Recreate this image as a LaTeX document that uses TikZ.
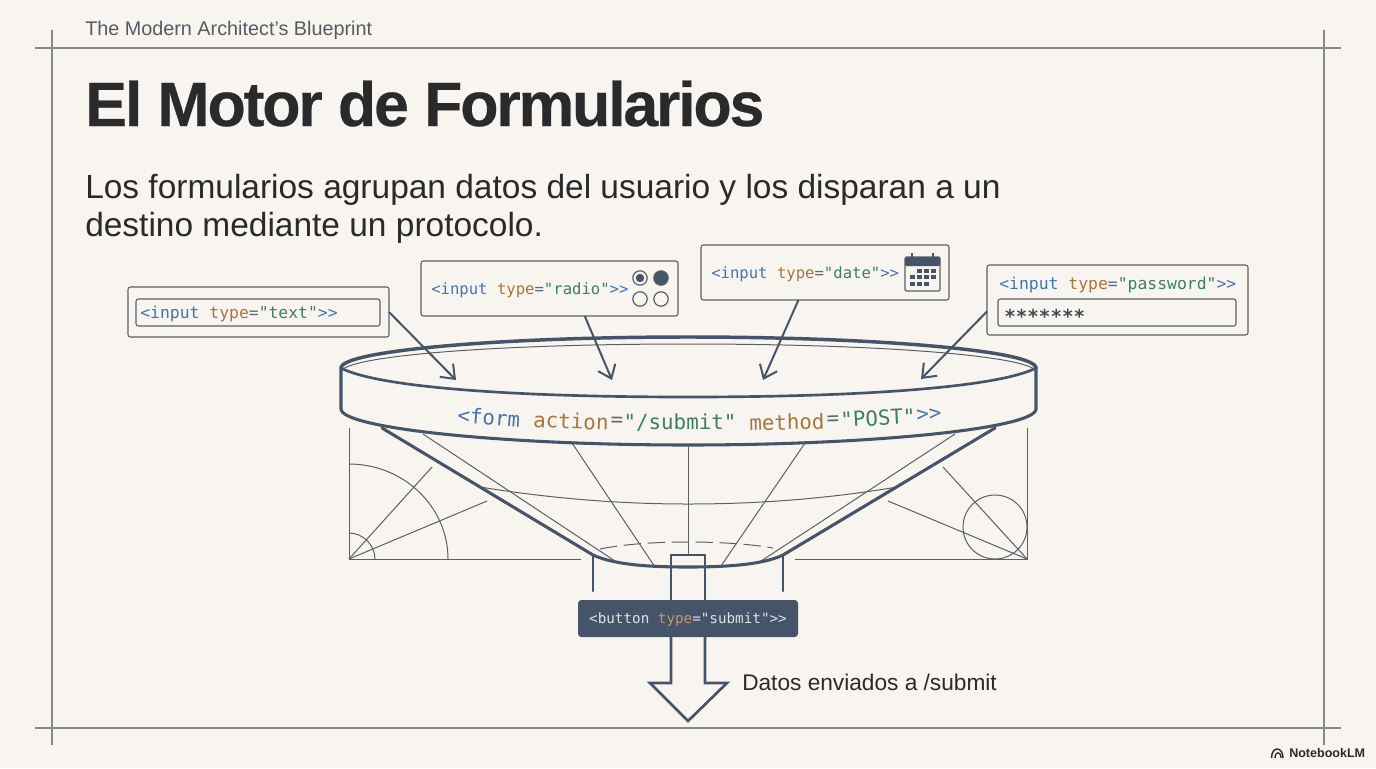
\documentclass[tikz,border=0pt]{standalone}
\usepackage{fontspec}
\setmainfont{Liberation Sans}
\setmonofont{DejaVu Sans Mono}
\usetikzlibrary{arrows.meta,calc}
\definecolor{paperbg}{HTML}{F8F5F1}
\definecolor{framegray}{HTML}{85878D}
\definecolor{slate}{HTML}{465469}
\definecolor{draftgray}{HTML}{5A5F68}
\definecolor{inkdark}{HTML}{2A2A2C}
\definecolor{headgray}{HTML}{555A64}
\definecolor{codeblue}{HTML}{4474AC}
\definecolor{codeorange}{HTML}{A8753C}
\definecolor{codegreen}{HTML}{3F7D68}
\definecolor{codegray}{HTML}{5F6A78}
\definecolor{btntext}{HTML}{DDE2E6}
\definecolor{btnorange}{HTML}{C29A6C}
\newcommand{\tagb}[1]{\textcolor{codeblue}{#1}}
\newcommand{\tago}[1]{\textcolor{codeorange}{#1}}
\newcommand{\tagg}[1]{\textcolor{codegreen}{#1}}
\newcommand{\tagq}{\textcolor{codegray}{=}}
\tikzset{
  frameline/.style={draw=framegray,line width=1pt},
  draftline/.style={draw=draftgray,line width=0.75pt},
  funnelline/.style={draw=slate,line width=2.3pt,line cap=round},
  fieldbox/.style={draw=draftgray,line width=0.8pt,rounded corners=1.8pt,inner sep=0pt,outer sep=0pt},
  arrowline/.style={draw=slate,line width=1.5pt,-{Straight Barb[length=9pt,width=14pt,line width=1.5pt]}},
  codetext/.style={font=\fontsize{#1}{#1}\selectfont\ttfamily,inner sep=0pt},
}
\begin{document}
\begin{tikzpicture}[x=0.75pt,y=0.75pt,yscale=-1,xscale=1]
        \useasboundingbox (0,0) rectangle (1376,768);
        \fill [paperbg] (0,0) rectangle (1376,768);
        % Frame
        \draw [frameline] (35,48) -- (1341,48);
        \draw [frameline] (35,728) -- (1341,728);
        \draw [frameline] (52,30) -- (52,745);
        \draw [frameline] (1324,30) -- (1324,745);
        % Text Node
        \node (headline) [anchor=base west,inner sep=0pt,text=headgray,font=\fontsize{14.85}{14.85}\selectfont] at (85,35) {The Modern Architect's Blueprint};
        \node (title) [anchor=base west,inner sep=0pt,text=inkdark,font=\fontsize{47}{47}\selectfont\bfseries\addfontfeature{LetterSpace=-3.5,FakeBold=0.4}] at (85,126) {El Motor de Formularios};
        \node (subone) [anchor=base west,inner sep=0pt,text=inkdark,font=\fontsize{25.1}{25.1}\selectfont] at (85,198) {Los formularios agrupan datos del usuario y los disparan a un};
        \node (subtwo) [anchor=base west,inner sep=0pt,text=inkdark,font=\fontsize{25.1}{25.1}\selectfont] at (85,236) {destino mediante un protocolo.};
        % Drafting lines, left
        \draw [draftline] (349,428) -- (349,559) -- (581,559);
        \draw [draftline] (349,464) .. controls (404,464) and (448,507) .. (448,559);
        \draw [draftline] (349,533) .. controls (363,533) and (375,545) .. (375,559);
        \draw [draftline] (349,559) -- (432,467);
        \draw [draftline] (349,559) -- (487,501);
        % Drafting lines, right
        \draw [draftline] (1027,428) -- (1027,559) -- (795,559);
        \draw [draftline] (995,527) circle [radius=32];
        \draw [draftline] (1027,559) -- (943,467);
        \draw [draftline] (1027,559) -- (888,501);
        % Funnel inner lines
        \draw [draftline] (423,434) -- (618,563);
        \draw [draftline] (955,434) -- (758,563);
        \draw [draftline] (572,443) -- (655,567);
        \draw [draftline] (805,443) -- (721,566);
        \draw [draftline] (688,445) -- (688,555);
        \draw [draftline] (480,487) .. controls (560,500) and (630,504) .. (688,504) .. controls (750,504) and (820,500) .. (897,487);
        \draw [draftline,dash pattern=on 13pt off 5pt] (600,549) .. controls (625,544) and (655,542) .. (688,542) .. controls (720,542) and (750,544) .. (773,548);
        % Funnel body
        \draw [funnelline] (382,428) -- (593,555) .. controls (615,565) and (650,567) .. (688,567) .. controls (725,567) and (762,565) .. (783,555) -- (995,428);
        \draw [funnelline,line width=2pt] (593,556) -- (593,591);
        \draw [funnelline,line width=2pt] (783,556) -- (783,591);
        % Output arrow
        \draw [funnelline,line width=2pt,line join=miter] (671,600) -- (671,555) -- (705,555) -- (705,600);
        \draw [funnelline,line width=2pt,line join=miter] (671,637) -- (671,683) -- (650,683) -- (688,721) -- (727,683) -- (705,683) -- (705,637);
        % Form band
        \draw [funnelline,line width=2.6pt] (341,368) .. controls (341,351) and (497,337) .. (688,337) .. controls (879,337) and (1036,351) .. (1036,368);
        \draw [draftline] (343,369) .. controls (362,355) and (500,344) .. (688,344) .. controls (876,344) and (1014,355) .. (1034,369);
        \draw [funnelline,line width=2pt] (341,368) .. controls (375,386) and (500,397) .. (688,397) .. controls (876,397) and (1001,386) .. (1036,368);
        \draw [funnelline] (341,368) -- (341,409) .. controls (341,428) and (500,445) .. (688,445) .. controls (876,445) and (1036,428) .. (1036,409) -- (1036,368);
        \foreach \tok/\px/\py/\rot/\col [count=\i] in {{<form}/489/417/-4/codeblue,action/571/421/-2/codeorange,{=}/617/422/-1/codegray,{"/submit"}/680/423/0/codegreen,method/787/422/1.5/codeorange,{=}/833/421/2/codegray,{"POST"}/878/418/3/codegreen,{>>}/929/415/4/codeblue}
            \node (formtok\i) [codetext=15.6,text=\col,rotate=\rot] at (\px,\py) {\tok};
        % Field boxes
        \node (boxText) [fieldbox,minimum width=195.75pt,minimum height=37.5pt] at (258.5,312) {};
        \node (innerText) [fieldbox,minimum width=183pt,minimum height=20.25pt] at (258,312.5) {};
        \node (lblText) [codetext=12.3,anchor=west] at (140,314) {\tagb{<input} \tago{type}\tagq\tagg{"text"}\tagb{>>}};
        \node (boxRadio) [fieldbox,minimum width=192.75pt,minimum height=41.25pt] at (549.5,288.5) {};
        \node (lblRadio) [codetext=11.7,anchor=west] at (431,290) {\tagb{<input} \tago{type}\tagq\tagg{"radio"}\tagb{>>}};
        \node (boxDate) [fieldbox,minimum width=186pt,minimum height=41.25pt] at (825,272.5) {};
        \node (lblDate) [codetext=11.7,anchor=west] at (711,274) {\tagb{<input} \tago{type}\tagq\tagg{"date"}\tagb{>>}};
        \node (boxPass) [fieldbox,minimum width=195.75pt,minimum height=52.5pt] at (1117.5,300) {};
        \node (innerPass) [fieldbox,minimum width=178.5pt,minimum height=20.25pt] at (1117,312.5) {};
        \node (lblPass) [codetext=12.3,anchor=west] at (999,285) {\tagb{<input} \tago{type}\tagq\tagg{"password"}\tagb{>>}};
        \node (lblStars) [codetext=14.4,anchor=west,text=codegray!70!black] at (1004,316) {\bfseries *******};
        % Radio glyphs
        \draw [draftline,line width=0.9pt] (640,278) circle [radius=7.2];
        \fill [slate] (640,278) circle [radius=4.2];
        \draw [draftline,fill=slate,line width=0.9pt] (661,278) circle [radius=7.2];
        \draw [draftline,line width=0.9pt] (640,299) circle [radius=7.2];
        \draw [draftline,line width=0.9pt] (661,299) circle [radius=7.2];
        % Calendar glyph
        \draw [draftline,line width=0.9pt,rounded corners=1pt] (905,257) rectangle (940,291);
        \fill [slate,rounded corners=1pt] (905,257) rectangle (940,266);
        \draw [draw=slate,line width=1pt] (912,253) -- (912,261);
        \draw [draw=slate,line width=1pt] (933,253) -- (933,261);
        \foreach \cx in {912,919,926,933} \foreach \cy in {271,277,284} {
            \pgfmathparse{(\cx==912 && \cy==271) || (\cx==933 && \cy==284) ? 0 : 1}
            \ifnum\pgfmathresult>0 \fill [slate] (\cx-2.5,\cy-2.2) rectangle (\cx+2.5,\cy+2.2); \fi
        }
        % Arrows into the form
        \coordinate (inText) at (456,380);
        \coordinate (inRadio) at (612,380);
        \coordinate (inDate) at (763,380);
        \coordinate (inPass) at (921,379);
        \draw [arrowline] (boxText.east) -- (inText);
        \draw [arrowline] (boxRadio.-38) -- (inRadio);
        \draw [arrowline] (boxDate.-134.5) -- (inDate);
        \draw [arrowline] (boxPass.185) -- (inPass);
        % Submit button
        \node (btnSubmit) [fill=slate,rounded corners=2.5pt,minimum width=165pt,minimum height=27.75pt,inner sep=0pt] at (688,618.5) {};
        \node (lblSubmit) [codetext=10.7,text=btntext] at (688,619.5) {<button \textcolor{btnorange}{type}="submit">>};
        \node (lblSent) [anchor=base west,inner sep=0pt,text=inkdark,font=\fontsize{17}{17}\selectfont] at (742,690) {Datos enviados a /submit};
        % NotebookLM mark
        \node (brand) [anchor=base west,inner sep=0pt,text=inkdark,font=\fontsize{9.4}{9.4}\selectfont\bfseries] at (1289,757.5) {NotebookLM};
        \draw [inkdark,line width=1.1pt] (1271.5,758) .. controls (1271.5,746) and (1283,746) .. (1283,758);
        \draw [inkdark,line width=1pt] (1275,758) .. controls (1275,751) and (1281,751) .. (1281,758);
\end{tikzpicture}
\end{document}
